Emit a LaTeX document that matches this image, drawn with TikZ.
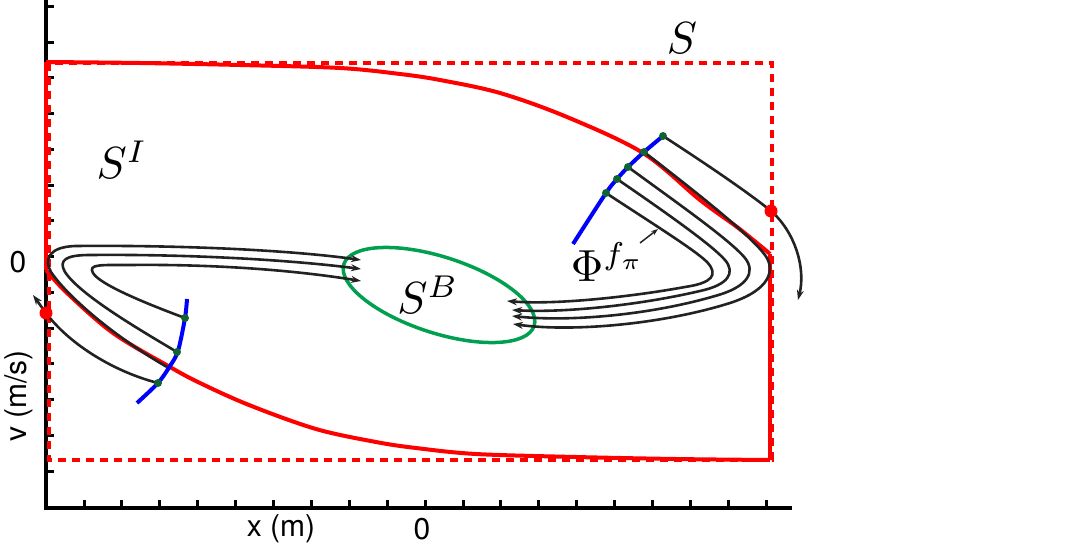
\documentclass[tikz,border=0pt]{standalone}
\usepackage{fontspec}
\setsansfont{TeX Gyre Heros}
\usetikzlibrary{arrows.meta,shapes.geometric}
\definecolor{myred}{RGB}{255,0,0}
\definecolor{myblue}{RGB}{0,0,255}
\definecolor{mygreen}{RGB}{0,160,80}
\definecolor{dotgreen}{RGB}{16,100,50}
\definecolor{trajcol}{RGB}{34,34,34}
\tikzset{
  axisline/.style={line width=3.5pt,black,line join=miter},
  tickline/.style={line width=3pt,black},
  bound/.style={myred,line width=4pt},
  bounddash/.style={myred,line width=3.2pt,dash pattern=on 8pt off 6pt},
  trajline/.style={trajcol,line width=2.6pt},
  arr/.style={-{Stealth[length=10pt,width=7pt]}},
  gdot/.style={circle,fill=dotgreen,inner sep=0pt,minimum size=8pt},
  rdot/.style={circle,fill=myred,inner sep=0pt,minimum size=13pt},
  bigmath/.style={font=\fontsize{10}{12}\selectfont,scale=4.5},
  axlabel/.style={font=\sffamily\fontsize{30}{34}\selectfont},
  blueline/.style={myblue,line width=4pt},
}
\begin{document}
\begin{tikzpicture}[x=1pt,y=-1pt]
\useasboundingbox (0,0) rectangle (1076,549);
% axes
\draw[axisline] (46,0) -- (46,508) -- (792,508);
\foreach \k in {0,...,13} \draw[tickline] (46,{6.3+35.75*\k}) -- (54,{6.3+35.75*\k});
\foreach \k in {0,...,18} \draw[tickline] ({84+37.9*\k},508) -- ({84+37.9*\k},500);
\node[axlabel] (yzero) at (18,262) {0};
\node[axlabel,rotate=90] (ylab) at (19,396) {v (m/s)};
\node[axlabel] (xlab) at (281,529) {x (m)};
\node[axlabel] (xzero) at (422,529) {0};
% red boundary S (dashed) and S^I (solid)
\draw[bounddash] (49,63) rectangle (772,460);
\draw[bound] (46,270) -- (46,62);
\draw[bound] plot[smooth,tension=0.55] coordinates {(46,62) (140,63) (240,65) (340,68) (400,74) (440,80) (500,93) (567,117) (643,153) (700,200) (737,227) (763,248) (770,254)};
\draw[bound] (770,254) -- (770,460);
\draw[bound] plot[smooth,tension=0.55] coordinates {(770,460) (676,459) (576,457) (476,454) (416,448) (376,442) (316,429) (249,405) (200,383) (170,367) (113,333) (67,293) (46,270)};
% target set S^B
\node[ellipse,draw=mygreen,line width=3.5pt,minimum width=200pt,minimum height=76pt,inner sep=0pt,rotate=-18] (SB) at (439,295) {};
% blue arcs
\draw[blueline] plot[smooth] coordinates {(137,403) (158,383) (170,366) (178,351) (185,318) (187,299)};
\draw[blueline] plot[smooth] coordinates {(573,244) (606,193) (617,179) (628,167) (644,152) (663,136)};
% named points
\coordinate (lA) at (185,318);
\coordinate (lB) at (177,352);
\coordinate (lC) at (167,367);
\coordinate (lD) at (158,383);
\coordinate (rE) at (663,136);
\coordinate (rF) at (644,152);
\coordinate (rG) at (628,167);
\coordinate (rH) at (617,179);
\coordinate (rI) at (606,193);
\coordinate (eA) at (361,281);
\coordinate (eB) at (361,269);
\coordinate (eC) at (361,260);
\coordinate (eD) at (33,295);
\coordinate (eE) at (798,300);
\coordinate (eF) at (513,324);
\coordinate (eG) at (512,316);
\coordinate (eH) at (512,310);
\coordinate (eI) at (507,301);
% left trajectories
\draw[trajline,arr] (lA) .. controls (150,305) and (100,285) .. (93,273) .. controls (88,264) and (100,265) .. (130,265) .. controls (220,264) and (300,271) .. (eA);
\draw[trajline,arr] (lB) .. controls (140,330) and (80,295) .. (65,272) .. controls (58,260) and (66,255) .. (90,255) .. controls (200,254) and (300,261) .. (eB);
\draw[trajline,arr] (lC) .. controls (120,340) and (70,300) .. (51,272) .. controls (44,260) and (48,247) .. (75,246) .. controls (180,245) and (290,250) .. (eC);
\draw[trajline,arr] (lD) .. controls (115,372) and (70,345) .. (46,313) .. controls (40,305) and (36,299) .. (eD);
% right trajectories
\draw[trajline,arr] (rE) .. controls (700,160) and (745,190) .. (771,211) .. controls (795,232) and (806,268) .. (eE);
\draw[trajline,arr] (rF) .. controls (700,195) and (750,235) .. (765,255) .. controls (776,270) and (770,290) .. (730,303) .. controls (660,325) and (570,332) .. (eF);
\draw[trajline,arr] (rG) .. controls (680,205) and (730,240) .. (745,258) .. controls (756,272) and (748,287) .. (715,296) .. controls (650,315) and (570,322) .. (eG);
\draw[trajline,arr] (rH) .. controls (665,212) and (712,245) .. (725,260) .. controls (736,273) and (728,285) .. (700,291) .. controls (640,305) and (565,313) .. (eH);
\draw[trajline,arr] (rI) .. controls (650,222) and (695,250) .. (707,262) .. controls (719,275) and (712,283) .. (685,287) .. controls (630,297) and (555,305) .. (eI);
% dots
\foreach \p in {lA,lB,lD,rE,rF,rG,rH,rI} \node[gdot] at (\p) {};
\node[rdot] (rdl) at (46,313) {};
\node[rdot] (rdr) at (771,211) {};
% labels
\node[bigmath] (lS) at (682,38) {$S$};
\node[bigmath] (lSI) at (122,160) {$S^I$};
\node[bigmath] (lSB) at (428,295) {$S^B$};
\node[bigmath] (lPhi) at (608,262) {$\Phi^{f_\pi}$};
\coordinate (phA) at (640,243);
\coordinate (phB) at (658,229);
\draw[trajcol,line width=1.5pt,-{Stealth[length=7pt,width=5pt]}] (phA) -- (phB);
\end{tikzpicture}
\end{document}
